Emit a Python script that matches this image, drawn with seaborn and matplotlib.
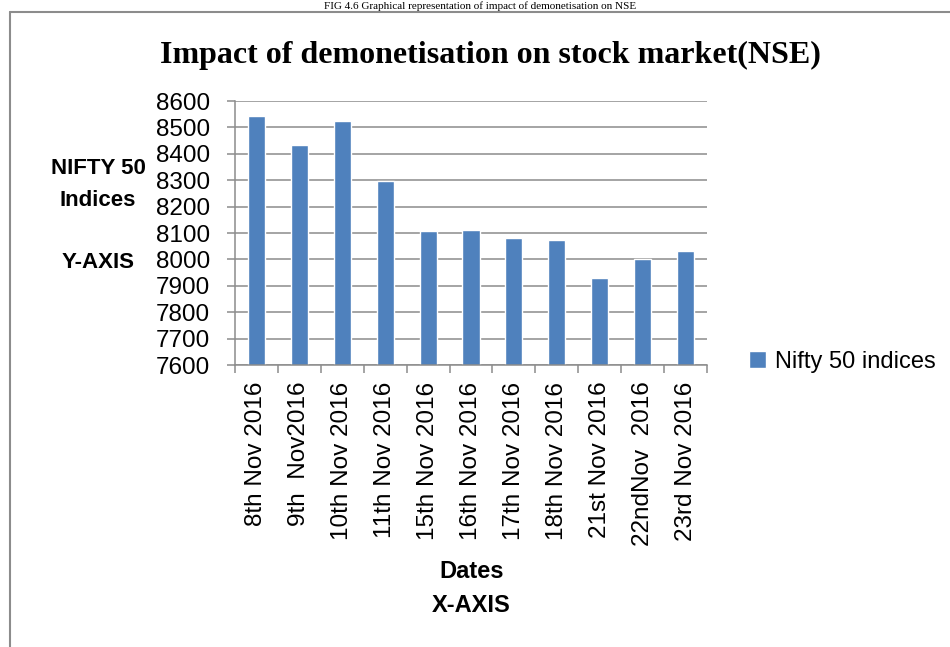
import matplotlib
matplotlib.use("Agg")
import matplotlib.pyplot as plt
import seaborn as sns
import pandas as pd
from matplotlib.lines import Line2D

dates = ["8th Nov 2016", "9th  Nov2016", "10th Nov 2016", "11th Nov 2016",
         "15th Nov 2016", "16th Nov 2016", "17th Nov 2016", "18th Nov 2016",
         "21st Nov 2016", "22ndNov  2016", "23rd Nov 2016"]
nifty = [8543, 8432, 8526, 8296, 8108, 8111, 8080, 8074, 7929, 8002, 8033]
series_name = "Nifty 50 indices"
y_ticks = list(range(7600, 8601, 100))

sns.set_theme(style="white")
plt.rcParams["font.family"] = ["Liberation Sans", "DejaVu Sans"]
plt.rcParams["text.color"] = "black"
plt.rcParams["xtick.color"] = "black"
plt.rcParams["ytick.color"] = "black"

df = pd.DataFrame({"Date": dates, "Value": nifty, "Series": series_name})

fig = plt.figure(figsize=(9.5, 6.47), dpi=100)
W, H = 950, 647
ax = fig.add_axes([235 / W, 1 - 365 / H, (707 - 235) / W, (365 - 101) / H])

sns.barplot(data=df, x="Date", y="Value", hue="Series", palette=["#4F81BD"],
            width=0.4, ax=ax, legend=True, saturation=1)

ax.set_ylim(y_ticks[0], y_ticks[-1])
ax.set_yticks(y_ticks)
ax.set_xlim(-0.5, len(dates) - 0.5)
ax.yaxis.grid(True, color="#8c8c8c", lw=1.1)
ax.set_axisbelow(True)
for s in ["top", "right"]:
    ax.spines[s].set_visible(False)
for s in ["left", "bottom"]:
    ax.spines[s].set_color("#8c8c8c")
    ax.spines[s].set_linewidth(1.1)

ax.tick_params(axis="y", which="major", left=True, length=6, width=1.1,
               color="#8c8c8c", labelsize=17.5, pad=12, labelcolor="black")
ax.set_xticks(range(len(dates)))
ax.set_xticklabels(dates, rotation=90, fontsize=17.5)
ax.tick_params(axis="x", which="major", bottom=False, length=6, pad=6, labelcolor="black")
ax.set_xticks([i - 0.5 for i in range(len(dates) + 1)], minor=True)
ax.tick_params(axis="x", which="minor", bottom=True, length=6, width=1.1, color="#8c8c8c")
ax.set_xlabel("")
ax.set_ylabel("")

leg = ax.legend(loc="center left", bbox_to_anchor=((749 - 235) / (707 - 235), (365 - 362) / (365 - 101)),
                frameon=False, fontsize=17, handlelength=0.7, handleheight=0.7,
                handletextpad=0.4, borderaxespad=0, borderpad=0)
for t in leg.get_texts():
    t.set_color("black")

# Axis titles
fig.text(98 / W, 1 - 168 / H, "NIFTY 50", ha="center", va="center", fontsize=16, fontweight="bold", color="black")
fig.text(98 / W, 1 - 200 / H, "Indices", ha="center", va="center", fontsize=16, fontweight="bold", color="black")
fig.text(98 / W, 1 - 262 / H, "Y-AXIS", ha="center", va="center", fontsize=16, fontweight="bold", color="black")
fig.text(472 / W, 1 - 571 / H, "Dates", ha="center", va="center", fontsize=17, fontweight="bold", color="black")
fig.text(471 / W, 1 - 605 / H, "X-AXIS", ha="center", va="center", fontsize=17, fontweight="bold", color="black")

# Title and caption
fig.text(490 / W, 1 - 55 / H, "Impact of demonetisation on stock market(NSE)", ha="center",
         va="center", fontsize=23, fontweight="bold", color="black",
         family=["Liberation Serif", "DejaVu Serif"])
fig.text(480 / W, 1 - 1 / H, "FIG 4.6 Graphical representation of impact of demonetisation on NSE",
         ha="center", va="top", fontsize=8, color="black", family=["Liberation Serif", "DejaVu Serif"])

# Chart area border (left and top visible)
fig.add_artist(Line2D([10 / W, 10 / W], [0, 1 - 12 / H], transform=fig.transFigure, color="#8c8c8c", lw=1.5))
fig.add_artist(Line2D([10 / W, 1], [1 - 12 / H, 1 - 12 / H], transform=fig.transFigure, color="#8c8c8c", lw=1.5))

fig.savefig("out.png", dpi=100)
